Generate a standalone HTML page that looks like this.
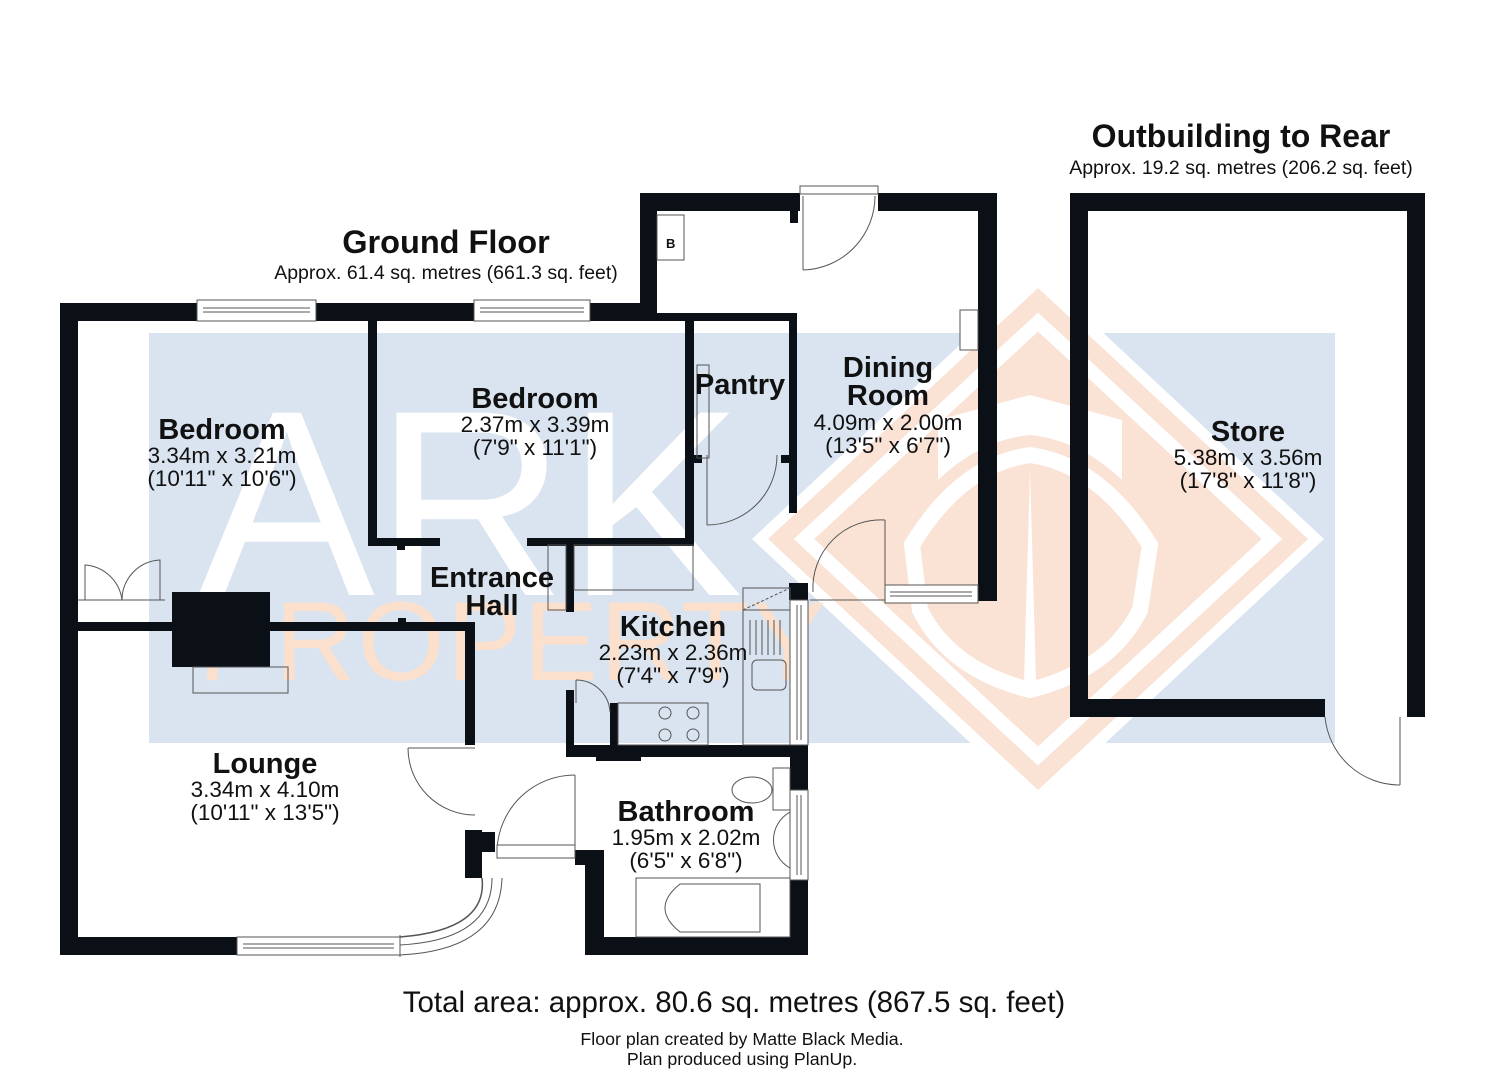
<!DOCTYPE html>
<html><head><meta charset="utf-8"><style>
html,body{margin:0;padding:0;background:#fff;}
svg{display:block;}
text{font-family:"Liberation Sans",Arial,sans-serif;fill:#111;}
.b{font-weight:bold;}
</style></head><body>
<svg width="1485" height="1080" viewBox="0 0 1485 1080" xmlns="http://www.w3.org/2000/svg">
<rect x="149" y="333" width="1186" height="410" fill="#d9e4f0"/>
<polygon points="1038,272 1324,539 1038,806 752,539" fill="#fff"/>
<polygon points="1038,288 1308,539 1038,790 768,539" fill="#fae2d5"/>
<polygon points="1038,322 1272,539 1038,756 804,539" fill="none" stroke="#fff" stroke-width="14"/>
<path d="M938,480 L938,420 L1030,395 L1122,420 L1122,480 Q1080,440 1030,435 Q980,440 938,480 Z" fill="#fff"/>
<path d="M912,545 Q960,465 1030,455 Q1100,465 1150,545 L1140,610 Q1110,670 1030,690 Q950,670 920,610 Z" fill="none" stroke="#fff" stroke-width="16"/>
<path d="M1030,470 L1036,680 L1030,690 L1024,680 Z" fill="#fff"/>
<text x="198" y="595" style="font-size:265px;fill:#fff;font-weight:normal;">ARK</text>
<text x="198" y="680" style="font-size:112px;fill:#fbe0cd;font-weight:normal;letter-spacing:2px;">PROPERTY</text>

<g fill="#0b0f16">
<rect x="60" y="303" width="580" height="18"/>
<rect x="60" y="303" width="18" height="652"/>
<rect x="60" y="937" width="177" height="18"/>
<rect x="640" y="193" width="160" height="18"/>
<rect x="878" y="193" width="119" height="18"/>
<rect x="978" y="193" width="19" height="408"/>
<rect x="640" y="193" width="17" height="128"/>
<rect x="790" y="211" width="8" height="12"/>
<rect x="657" y="313" width="140" height="8"/>
<rect x="789" y="313" width="8" height="200"/>
<rect x="789" y="583" width="19" height="17"/>
<rect x="368" y="313" width="9" height="233"/>
<rect x="368" y="538" width="72" height="8"/>
<rect x="527" y="538" width="166" height="8"/>
<rect x="685" y="313" width="9" height="233"/>
<rect x="397" y="545" width="8" height="5"/>
<rect x="694" y="455" width="8" height="8"/>
<rect x="781" y="455" width="8" height="8"/>
<rect x="566" y="545" width="8" height="67"/>
<rect x="78" y="622" width="397" height="9"/>
<rect x="465" y="622" width="10" height="123"/>
<rect x="172" y="592" width="98" height="75"/>
<rect x="398" y="618" width="8" height="6"/>
<rect x="566" y="690" width="8" height="67"/>
<rect x="610" y="703" width="8" height="45"/>
<rect x="566" y="745" width="242" height="12"/>
<rect x="596" y="755" width="45" height="6"/>
<rect x="790" y="745" width="18" height="45"/>
<rect x="790" y="880" width="18" height="75"/>
<rect x="585" y="937" width="223" height="18"/>
<rect x="585" y="850" width="19" height="105"/>
<rect x="575" y="850" width="29" height="15"/>
<rect x="465" y="830" width="17" height="48"/>
<rect x="465" y="832" width="30" height="20"/>
<rect x="1070" y="193" width="355" height="18"/>
<rect x="1070" y="193" width="18" height="524"/>
<rect x="1407" y="193" width="18" height="524"/>
<rect x="1070" y="699" width="255" height="18"/>
</g>

<g fill="none" stroke="#555" stroke-width="1">
<rect x="197" y="300" width="119" height="21" fill="#fff"/><line x1="203" y1="308" x2="310" y2="308"/><line x1="203" y1="312" x2="310" y2="312"/>
<rect x="474" y="300" width="116" height="21" fill="#fff"/><line x1="480" y1="308" x2="584" y2="308"/><line x1="480" y1="312" x2="584" y2="312"/>
<rect x="237" y="937" width="163" height="18" fill="#fff"/><line x1="243" y1="944" x2="394" y2="944"/><line x1="243" y1="948" x2="394" y2="948"/>
<rect x="885" y="585" width="93" height="18" fill="#fff"/><line x1="890" y1="592" x2="972" y2="592"/><line x1="890" y1="596" x2="972" y2="596"/>
<rect x="790" y="600" width="18" height="145" fill="#fff"/><line x1="797" y1="605" x2="797" y2="740"/><line x1="801" y1="605" x2="801" y2="740"/>
<rect x="790" y="790" width="18" height="90" fill="#fff"/><line x1="797" y1="795" x2="797" y2="875"/><line x1="801" y1="795" x2="801" y2="875"/>
<path d="M400,937 Q488,930 482,878" stroke-width="1.5"/>
<path d="M400,955 Q500,950 502,878"/>
<path d="M400,945 Q492,940 492,878"/>
<line x1="400" y1="935" x2="400" y2="957"/>
<rect x="800" y="186" width="78" height="8" fill="#fff"/>
<line x1="803" y1="196" x2="803" y2="270"/><path d="M803,270 A74,74 0 0 0 875,196"/>
<line x1="885" y1="520" x2="885" y2="588"/><path d="M885,520 A68,68 0 0 0 813,592"/>
<line x1="810" y1="600" x2="885" y2="600"/>
<line x1="707" y1="455" x2="707" y2="525"/><path d="M707,525 A70,70 0 0 0 777,455"/>
<rect x="697" y="365" width="12" height="93"/>
<line x1="475" y1="748" x2="408" y2="748"/><path d="M408,748 A67,67 0 0 0 475,815"/>
<path d="M497,850 A78,78 0 0 1 575,775"/><line x1="575" y1="775" x2="575" y2="850"/>
<rect x="497" y="845" width="78" height="13" fill="#fff"/>
<line x1="576" y1="680" x2="576" y2="703"/><path d="M576,680 A34,34 0 0 1 610,712"/>
<path d="M85,600 L85,565 A40,40 0 0 1 122,600"/><path d="M160,600 L160,560 A40,40 0 0 0 122,600"/>
<line x1="78" y1="600" x2="165" y2="600"/>
<path d="M1325,717 A75,75 0 0 0 1400,785"/><line x1="1400" y1="717" x2="1400" y2="785"/>
<rect x="657" y="215" width="27" height="45" fill="#fff"/>
<rect x="960" y="310" width="18" height="40" fill="#fff"/>
<rect x="193" y="667" width="95" height="26"/>
<rect x="548" y="545" width="18" height="65"/>
<rect x="574" y="545" width="119" height="45"/>
<rect x="743" y="588" width="47" height="157"/>
<rect x="743" y="588" width="47" height="22"/>
<line x1="743" y1="610" x2="790" y2="588" stroke-dasharray="3,2"/>
<path d="M750,620 v35 M756,620 v35 M762,620 v35 M768,620 v35 M774,620 v35 M780,620 v35"/>
<rect x="752" y="660" width="34" height="30" rx="5"/>
<rect x="618" y="703" width="90" height="42"/>
<circle cx="665" cy="713" r="6"/><circle cx="693" cy="713" r="6"/><circle cx="665" cy="735" r="6"/><circle cx="693" cy="735" r="6"/>
<rect x="773" y="768" width="17" height="42"/>
<ellipse cx="752" cy="790" rx="20" ry="13"/>
<path d="M790,812 A32,32 0 0 0 790,868 Z"/>
<rect x="636" y="878" width="154" height="59"/>
<path d="M680,884 L760,884 L760,932 L680,932 Q650,908 680,884 Z"/>
</g>

<text class="b" x="1241" y="147" text-anchor="middle" style="font-size:32px">Outbuilding to Rear</text>
<text x="1241" y="174" text-anchor="middle" style="font-size:19.5px">Approx. 19.2 sq. metres (206.2 sq. feet)</text>
<text class="b" x="446" y="253" text-anchor="middle" style="font-size:32.5px">Ground Floor</text>
<text x="446" y="279" text-anchor="middle" style="font-size:19.5px">Approx. 61.4 sq. metres (661.3 sq. feet)</text>
<text x="734" y="1012" text-anchor="middle" style="font-size:29.5px">Total area: approx. 80.6 sq. metres (867.5 sq. feet)</text>
<text x="742" y="1045" text-anchor="middle" style="font-size:17.8px">Floor plan created by Matte Black Media.</text>
<text x="742" y="1065" text-anchor="middle" style="font-size:17.8px">Plan produced using PlanUp.</text>
<text x="666" y="248" style="font-size:13px" class="b">B</text>

<g text-anchor="middle">
<text class="b" x="222" y="439" style="font-size:29px">Bedroom</text>
<text x="222" y="463" style="font-size:22.5px">3.34m x 3.21m</text>
<text x="222" y="486" style="font-size:22.5px">(10'11" x 10'6")</text>
<text class="b" x="535" y="408" style="font-size:29px">Bedroom</text>
<text x="535" y="432" style="font-size:22.5px">2.37m x 3.39m</text>
<text x="535" y="455" style="font-size:22.5px">(7'9" x 11'1")</text>
<text class="b" x="740" y="394" style="font-size:29px">Pantry</text>
<text class="b" x="888" y="377" style="font-size:29px">Dining</text>
<text class="b" x="888" y="405" style="font-size:29px">Room</text>
<text x="888" y="430" style="font-size:22.5px">4.09m x 2.00m</text>
<text x="888" y="453" style="font-size:22.5px">(13'5" x 6'7")</text>
<text class="b" x="492" y="587" style="font-size:29px">Entrance</text>
<text class="b" x="492" y="615" style="font-size:29px">Hall</text>
<text class="b" x="673" y="636" style="font-size:29px">Kitchen</text>
<text x="673" y="660" style="font-size:22.5px">2.23m x 2.36m</text>
<text x="673" y="683" style="font-size:22.5px">(7'4" x 7'9")</text>
<text class="b" x="265" y="773" style="font-size:29px">Lounge</text>
<text x="265" y="797" style="font-size:22.5px">3.34m x 4.10m</text>
<text x="265" y="820" style="font-size:22.5px">(10'11" x 13'5")</text>
<text class="b" x="686" y="821" style="font-size:29px">Bathroom</text>
<text x="686" y="845" style="font-size:22.5px">1.95m x 2.02m</text>
<text x="686" y="868" style="font-size:22.5px">(6'5" x 6'8")</text>
<text class="b" x="1248" y="441" style="font-size:29px">Store</text>
<text x="1248" y="465" style="font-size:22.5px">5.38m x 3.56m</text>
<text x="1248" y="488" style="font-size:22.5px">(17'8" x 11'8")</text>
</g>
</svg>
</body></html>
